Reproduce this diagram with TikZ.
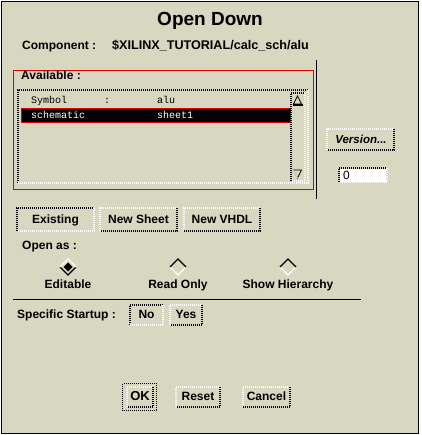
\documentclass[tikz,border=0pt]{standalone}
\usepackage{fontspec}
\setmainfont{Liberation Sans}
\newfontfamily\listfont{Liberation Mono}
\definecolor{bg}{RGB}{216,215,192}
\definecolor{redline}{RGB}{225,0,0}
\tikzset{
  lbl/.style={font=\bfseries\fontsize{12}{14}\selectfont, inner sep=0pt, text height=0.72em, text depth=0pt},
  lstxt/.style={font=\listfont\fontsize{10}{11}\selectfont, inner sep=0pt, anchor=west, text height=0.6em, text depth=0pt},
  dk/.style={black, line width=1.4pt, dash pattern=on 1pt off 1pt},
  lt/.style={white, line width=1.4pt, dash pattern=on 1pt off 1pt},
}
% raised button: light top-left, dark bottom-right
\newcommand\upbtn[4]{%
  \draw[lt] (#1,#4) -- (#1,#2) -- (#3,#2);
  \draw[dk] (#3,#2) -- (#3,#4) -- (#1,#4);}
% sunken button: dark top-left, light bottom-right
\newcommand\downbtn[4]{%
  \draw[dk] (#1,#4) -- (#1,#2) -- (#3,#2);
  \draw[lt] (#3,#2) -- (#3,#4) -- (#1,#4);}
\begin{document}
\begin{tikzpicture}[x=1pt,y=-1pt]
\useasboundingbox (0,0) rectangle (421,435);
\fill[white] (0,0) rectangle (421,435);
\fill[bg] (1,1) rectangle (419,433);
\draw[black, line width=1pt] (1.5,1.5) rectangle (418.5,433);

% title
\node[lbl, font=\bfseries\fontsize{19}{21}\selectfont] (title) at (210,21.5) {Open Down};
\node[lbl, anchor=west] (comp) at (22,46) {Component :};
\node[lbl, anchor=west, font=\bfseries\fontsize{12.6}{14}\selectfont] (path) at (112,46) {\$XILINX\_TUTORIAL/calc\_sch/alu};

% separator
\draw[black, line width=1pt] (316,60) -- (316,199);

% available frame
\draw[redline, line width=0.8pt] (13.5,70.5) rectangle (313,189);
\node[lbl, anchor=west] (avail) at (21,75.5) {Available :};
\downbtn{18}{90}{308}{183}
\node[lstxt] (sym) at (31,101) {Symbol};
\node[lstxt] (colon) at (104,101) {:};
\node[lstxt] (alu) at (157,101) {alu};
\draw[redline, fill=black, line width=0.8pt] (21,108) rectangle (290,122);
\node[lstxt, text=white] (sch) at (31,115.5) {schematic};
\node[lstxt, text=white] (sheet) at (157,115.5) {sheet1};
% scrollbar
\downbtn{291}{93}{305}{181}
\draw[black, line width=0.7pt] (297.5,96) -- (293.5,104) -- (301.5,104) -- cycle;
\draw[black, line width=1.5pt] (293,105) -- (303,105);
\draw[black, line width=0.7pt] (293.5,170) -- (301.5,170) -- (297.5,178) -- cycle;
\draw[white, line width=0.7pt] (293.5,170) -- (297.5,178);

% version button and field
\upbtn{327}{129}{394}{150}
\node[lbl, font=\bfseries\itshape\fontsize{11.5}{13}\selectfont] (ver) at (361,139.5) {Version...};
\fill[white] (340,169) rectangle (386,182);
\downbtn{339}{168}{387}{182}
\node[lbl, font=\fontsize{12}{13}\selectfont, anchor=west] (zero) at (343,175.5) {0};

% mode buttons
\downbtn{17}{208}{94}{231}
\node[lbl] (exist) at (55.5,219.5) {Existing};
\upbtn{100}{208}{177}{231}
\node[lbl] (newsheet) at (138.5,219.5) {New Sheet};
\upbtn{184}{208}{260}{231}
\node[lbl] (newvhdl) at (222,219.5) {New VHDL};

\node[lbl, anchor=west] (openas) at (22,246) {Open as :};

% radio diamonds
\coordinate (d1) at (68,267);
\draw[black, line width=1.3pt] ([xshift=-8pt]d1) -- ([yshift=-8pt]d1) -- ([xshift=8pt]d1);
\draw[white, line width=1.3pt] ([xshift=8pt]d1) -- ([yshift=8pt]d1) -- ([xshift=-8pt]d1);
\fill[black] ([xshift=-4.5pt]d1) -- ([yshift=-4.5pt]d1) -- ([xshift=4.5pt]d1) -- ([yshift=4.5pt]d1) -- cycle;
\coordinate (d2) at (178,267);
\draw[white, line width=1.3pt] ([xshift=-8pt]d2) -- ([yshift=-8pt]d2) -- ([xshift=8pt]d2);
\draw[black, line width=1.3pt] ([xshift=8pt]d2) -- ([yshift=8pt]d2) -- ([xshift=-8pt]d2);
\coordinate (d3) at (288,267);
\draw[white, line width=1.3pt] ([xshift=-8pt]d3) -- ([yshift=-8pt]d3) -- ([xshift=8pt]d3);
\draw[black, line width=1.3pt] ([xshift=8pt]d3) -- ([yshift=8pt]d3) -- ([xshift=-8pt]d3);
\node[lbl] (edit) at (68,285) {Editable};
\node[lbl] (ro) at (178,285) {Read Only};
\node[lbl] (hier) at (288,285) {Show Hierarchy};

\draw[black, line width=1pt] (13,299) -- (361,299);

% specific startup
\node[lbl, anchor=west] (spec) at (17,315) {Specific Startup :};
\downbtn{130}{305}{163}{325}
\node[lbl] (no) at (146.5,314.5) {No};
\upbtn{170}{305}{202}{325}
\node[lbl] (yes) at (186,314.5) {Yes};

% bottom buttons
\draw[dk, line width=1pt] (122.5,383.5) rectangle (156.5,410.5);
\upbtn{127}{387}{153}{407}
\node[lbl, font=\bfseries\fontsize{13}{14}\selectfont] (ok) at (140,397) {OK};
\upbtn{176}{387}{220}{407}
\node[lbl] (reset) at (198,397) {Reset};
\upbtn{243}{387}{290}{407}
\node[lbl] (cancel) at (266.5,397) {Cancel};
\end{tikzpicture}
\end{document}
